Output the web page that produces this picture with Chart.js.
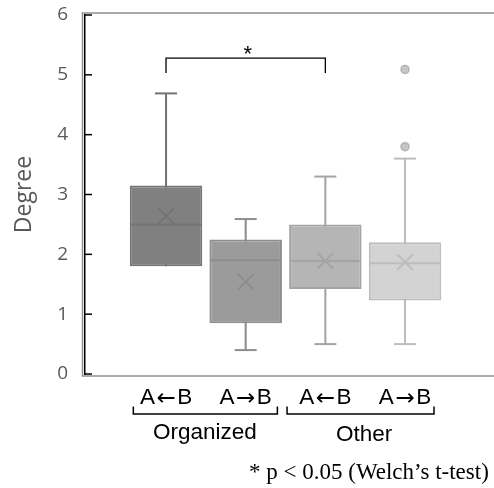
<!DOCTYPE html>
<html>
<head>
<meta charset="utf-8">
<title>Degree box plot</title>
<style>
    body {
        margin: 0;
        background: #fff;
    }
    .container {
        width: 494px;
        height: 488px;
        position: relative;
    }
</style>
</head>
<body>
<div class="container">
    <canvas id="boxChart"></canvas>
</div>

<script src="https://cdn.jsdelivr.net/npm/chart.js"></script>
<script>
// values
const categories = ['A\u2190B', 'A\u2192B', 'A\u2190B', 'A\u2192B'];
const groupNames = ['Organized', 'Other'];
const groupMembers = [[0, 1], [2, 3]];
const q1 = [1.80, 0.85, 1.42, 1.23];
const q3 = [3.15, 2.25, 2.50, 2.20];
const medians = [2.50, 1.90, 1.89, 1.85];
const means = [2.64, 1.54, 1.89, 1.87];
const mins = [1.80, 0.40, 0.50, 0.50];
const maxs = [4.69, 2.59, 3.30, 3.60];
const outliers = [[], [], [], [3.80, 5.09]];
const yTicks = [0, 1, 2, 3, 4, 5, 6];
const sigPair = [0, 2];
const sigLevels = [5.03, 5.28];
const sigLabel = '*';
const footnote = '* p < 0.05 (Welch\u2019s t-test)';

const fills = ['#808080', '#9b9b9b', '#b5b5b5', '#d3d3d3'];
const edges = ['#747474', '#8d8d8d', '#a4a4a4', '#bdbdbd'];

const positions = categories.map((c, i) => i + 1);
const outlierPoints = [];
outliers.forEach((arr, i) => arr.forEach(v => outlierPoints.push({ x: positions[i], y: v })));

// whisker caps, skipped where the whisker has no length
const capPoints = [];
const capColors = [];
positions.forEach((p, i) => {
    if (mins[i] < q1[i]) { capPoints.push({ x: p, y: mins[i] }); capColors.push(edges[i]); }
    if (maxs[i] > q3[i]) { capPoints.push({ x: p, y: maxs[i] }); capColors.push(edges[i]); }
});

const latinFont = '22.5px "Liberation Sans", Arial, sans-serif';
const arrowFont = '23px "DejaVu Sans", sans-serif';

// draws "A", arrow, "B" with a wider arrow glyph, centred on cx
function drawCategory(ctx, label, cx, baseY) {
    const parts = [label[0], label[1], label.slice(2)];
    const fonts = [latinFont, arrowFont, latinFont];
    const gap = 1.5;
    const widths = parts.map((p, i) => { ctx.font = fonts[i]; return ctx.measureText(p).width; });
    let px = cx - (widths.reduce((s, w) => s + w, 0) + 2 * gap) / 2;
    ctx.textAlign = 'left';
    parts.forEach((p, i) => {
        ctx.font = fonts[i];
        ctx.fillText(p, px, baseY + (i === 1 ? 1.5 : 0));
        px += widths[i] + (i < 2 ? gap : 0);
    });
}

// inward ticks, category labels, brackets and notes
const annotations = {
    id: 'annotations',
    afterDraw(chart) {
        const { ctx, chartArea: a, scales: { x, y } } = chart;
        ctx.save();

        // light frame round the plot
        ctx.strokeStyle = '#8f8f8f';
        ctx.lineWidth = 1.5;
        ctx.strokeRect(a.left - 2.5, a.top - 2, a.right - a.left + 10, a.bottom - a.top + 4);

        // ticks pointing into the plot
        ctx.strokeStyle = '#000';
        ctx.lineWidth = 1.5;
        yTicks.forEach(v => {
            const py = y.getPixelForValue(v);
            ctx.beginPath();
            ctx.moveTo(a.left, py);
            ctx.lineTo(a.left + 7, py);
            ctx.stroke();
        });

        // significance bracket
        const sx1 = x.getPixelForValue(positions[sigPair[0]]);
        const sx2 = x.getPixelForValue(positions[sigPair[1]]);
        const sLow = y.getPixelForValue(sigLevels[0]);
        const sTop = y.getPixelForValue(sigLevels[1]);
        ctx.lineWidth = 1.3;
        ctx.beginPath();
        ctx.moveTo(sx1, sLow);
        ctx.lineTo(sx1, sTop);
        ctx.lineTo(sx2, sTop);
        ctx.lineTo(sx2, sLow);
        ctx.stroke();
        ctx.fillStyle = '#000';
        ctx.font = '22px "Liberation Sans", Arial, sans-serif';
        ctx.textAlign = 'center';
        ctx.textBaseline = 'alphabetic';
        ctx.fillText(sigLabel, (sx1 + sx2) / 2 + 2, sTop + 3);

        // category labels
        categories.forEach((label, i) => {
            drawCategory(ctx, label, x.getPixelForValue(positions[i]), a.bottom + 29.5);
        });

        // group brackets under the category labels
        const pads = [[-32.7, 31.7], [-38.3, 29]];
        const offs = [0, 2];
        ctx.lineWidth = 1.5;
        ctx.font = latinFont;
        ctx.textAlign = 'center';
        groupNames.forEach((name, g) => {
            const first = groupMembers[g][0];
            const last = groupMembers[g][groupMembers[g].length - 1];
            const cx1 = x.getPixelForValue(positions[first]);
            const cx2 = x.getPixelForValue(positions[last]);
            const bx1 = cx1 + pads[g][0];
            const bx2 = cx2 + pads[g][1];
            ctx.beginPath();
            ctx.moveTo(bx1, a.bottom + 32.5);
            ctx.lineTo(bx1, a.bottom + 40);
            ctx.lineTo(bx2, a.bottom + 40);
            ctx.lineTo(bx2, a.bottom + 32.5);
            ctx.stroke();
            ctx.fillText(name, (cx1 + cx2) / 2 - 1, a.bottom + 64.5 + offs[g]);
        });

        // footnote
        ctx.font = '23px "Liberation Serif", "Times New Roman", serif';
        ctx.textAlign = 'left';
        ctx.fillText(footnote, 249, chart.height - 9);

        ctx.restore();
    }
};

const ctx = document.getElementById('boxChart').getContext('2d');
const chart = new Chart(ctx, {
    type: 'bar',
    data: {
        datasets: [
            {
                // interquartile boxes
                label: 'box',
                order: 2,
                data: positions.map((p, i) => ({ x: p, y: [q1[i], q3[i]] })),
                backgroundColor: fills,
                borderColor: edges,
                borderWidth: 2,
                borderSkipped: false,
                grouped: false,
                categoryPercentage: 1,
                barPercentage: 0.91
            },
            {
                // whisker stems (hidden behind the boxes)
                label: 'whisker',
                order: 4,
                data: positions.map((p, i) => ({ x: p, y: [mins[i], maxs[i]] })),
                backgroundColor: edges,
                borderWidth: 0,
                grouped: false,
                categoryPercentage: 1,
                barPercentage: 0.026
            },
            {
                type: 'scatter',
                label: 'caps',
                order: 3,
                data: capPoints,
                pointStyle: 'line',
                pointRadius: 11,
                pointBorderWidth: 2,
                pointBorderColor: capColors
            },
            {
                type: 'scatter',
                label: 'median',
                order: 1,
                data: positions.map((p, i) => ({ x: p, y: medians[i] })),
                pointStyle: 'line',
                pointRadius: 35,
                pointBorderWidth: 2,
                pointBorderColor: edges
            },
            {
                type: 'scatter',
                label: 'mean',
                order: 1,
                data: positions.map((p, i) => ({ x: p, y: means[i] })),
                pointStyle: 'crossRot',
                pointRadius: 11,
                pointBorderWidth: 2,
                pointBorderColor: edges
            },
            {
                type: 'scatter',
                label: 'outliers',
                order: 1,
                data: outlierPoints,
                pointStyle: 'circle',
                pointRadius: 4,
                pointBorderWidth: 1.5,
                pointBackgroundColor: '#c6c6c6',
                pointBorderColor: '#b3b3b3'
            }
        ]
    },
    options: {
        responsive: true,
        maintainAspectRatio: false,
        animation: false,
        events: [],
        layout: { autoPadding: false, padding: { top: 15, right: 0, bottom: 0, left: 0 } },
        plugins: {
            legend: { display: false },
            tooltip: { enabled: false }
        },
        scales: {
            x: {
                type: 'linear',
                offset: false,
                min: -0.017,
                max: 5.117,
                grid: { display: false, drawTicks: false },
                border: { display: false },
                afterBuildTicks: s => { s.ticks = positions.map(v => ({ value: v })); },
                afterFit: s => { s.height = 114; },
                ticks: { display: false }
            },
            y: {
                min: 0,
                max: 6,
                afterBuildTicks: s => { s.ticks = yTicks.map(v => ({ value: v })); },
                afterFit: s => {
                    s.width = 85;
                    s.paddingTop = 0;
                    s.paddingBottom = 0;
                },
                grid: { display: false, drawTicks: false },
                border: { display: true, color: '#000', width: 1.5 },
                ticks: {
                    color: '#595959',
                    font: { family: '"Open Sans", sans-serif', size: 19 },
                    padding: 17
                },
                title: {
                    display: true,
                    text: 'Degree',
                    color: '#595959',
                    font: { family: '"Open Sans", sans-serif', size: 23 },
                    padding: { top: 11, bottom: 0 }
                }
            }
        }
    },
    plugins: [annotations]
});
</script>
</body>
</html>
